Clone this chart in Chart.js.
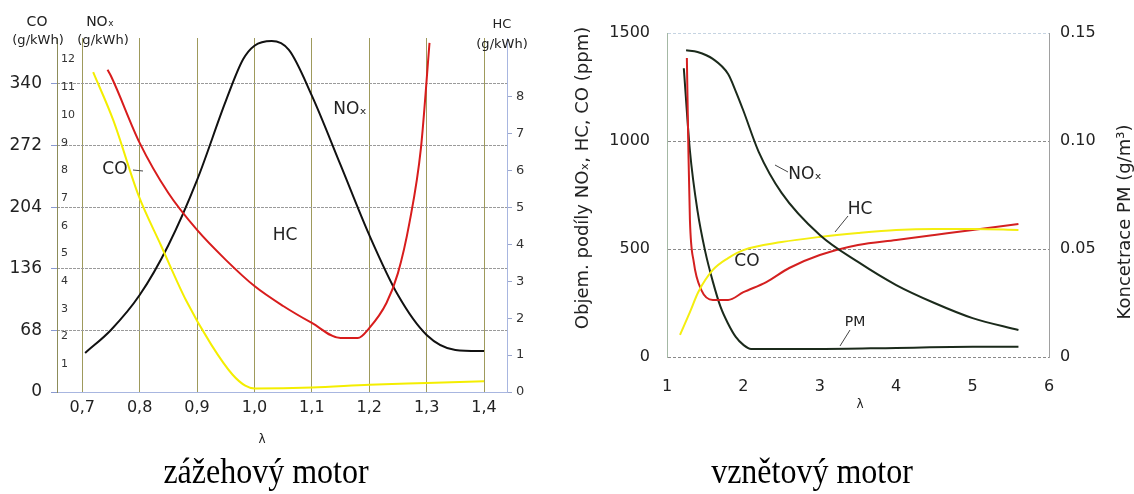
<!DOCTYPE html>
<html>
<head>
<meta charset="utf-8">
<script src="https://cdn.jsdelivr.net/npm/chart.js@4"></script>
<style>
html, body { margin: 0; padding: 0; background: #fff; }
#wrap { position: relative; width: 1134px; height: 494px; overflow: hidden; }
#leftBox { position: absolute; left: 0; top: 0; width: 560px; height: 494px; }
#rightBox { position: absolute; left: 560px; top: 0; width: 574px; height: 494px; }
</style>
</head>
<body>
<div id="wrap">
  <div id="leftBox"><canvas id="zazeh" width="560" height="494"></canvas></div>
  <div id="rightBox"><canvas id="vznet" width="574" height="494"></canvas></div>
</div>
<script>
// zážehový motor (spark ignition)
const siLambdaCO = [0.719, 0.754, 0.798, 0.837, 0.881, 0.925, 0.962, 0.984, 1.0, 1.1, 1.2, 1.3, 1.4];
const siCO = [353, 300, 217, 162, 101, 52, 19, 7, 4, 5, 8, 10, 12];
const siLambdaNOx = [0.705, 0.75, 0.8, 0.85, 0.9, 0.95, 0.98, 1.0, 1.03, 1.06, 1.1, 1.15, 1.2, 1.25, 1.3, 1.35, 1.4];
const siNOx = [1.41, 2.24, 3.5, 5.3, 7.65, 10.5, 12.0, 12.5, 12.67, 12.35, 10.7, 8.2, 5.67, 3.5, 2.06, 1.52, 1.48];
const siLambdaHC = [0.744, 0.75, 0.8, 0.85, 0.9, 0.95, 1.0, 1.05, 1.1, 1.15, 1.18, 1.2, 1.23, 1.25, 1.27, 1.29, 1.305];
const siHC = [8.73, 8.56, 6.75, 5.39, 4.39, 3.58, 2.87, 2.33, 1.87, 1.46, 1.46, 1.73, 2.41, 3.22, 4.58, 6.6, 9.46];
const siXTicks = [0.7, 0.8, 0.9, 1.0, 1.1, 1.2, 1.3, 1.4];
const siXTickLabels = ['0,7', '0,8', '0,9', '1,0', '1,1', '1,2', '1,3', '1,4'];
const siCOTicks = [0, 68, 136, 204, 272, 340];
const siNOxTicks = [1, 2, 3, 4, 5, 6, 7, 8, 9, 10, 11, 12];
const siHCTicks = [0, 1, 2, 3, 4, 5, 6, 7, 8];

// vznětový motor (compression ignition)
const ciLambdaNOx = [1.25, 1.4, 1.6, 1.8, 1.9, 2.0, 2.2, 2.5, 3.0, 3.5, 4.0, 4.5, 5.0, 5.6];
const ciNOx = [1420, 1412, 1380, 1310, 1230, 1140, 950, 760, 565, 440, 333, 250, 180, 125];
const ciLambdaHC = [1.17, 1.3, 1.41, 1.6, 1.8, 2.0, 2.5, 3.0, 3.5, 4.0, 4.5, 5.0, 5.6];
const ciHC = [102, 208, 301, 403, 458, 495, 532, 556, 574, 588, 593, 593, 588];
const ciLambdaCO = [1.26, 1.28, 1.3, 1.35, 1.45, 1.6, 1.8, 2.0, 2.3, 2.6, 3.0, 3.5, 4.0, 4.5, 5.0, 5.6];
const ciCO = [1384, 958, 634, 440, 310, 264, 264, 300, 347, 412, 472, 519, 542, 565, 588, 616];
const ciLambdaPM = [1.22, 1.3, 1.4, 1.5, 1.6, 1.7, 1.8, 1.9, 2.0, 2.1, 2.5, 3.0, 4.0, 5.0, 5.6];
const ciPM = [0.1337, 0.0955, 0.0675, 0.0489, 0.0349, 0.0233, 0.0154, 0.0093, 0.0056, 0.0037, 0.0037, 0.0037, 0.0042, 0.0047, 0.0047];
const ciXTicks = [1, 2, 3, 4, 5, 6];
const ciPpmTicks = [0, 500, 1000, 1500];
const ciPpmTickLabels = ['0', '500', '1000', '1500'];
const ciPMTicks = [0, 0.05, 0.10, 0.15];
const ciPMTickLabels = ['0', '0.05', '0.10', '0.15'];

const pts = (xs, ys) => xs.map((x, i) => ({ x: x, y: ys[i] }));
const setTicks = arr => scale => { scale.ticks = arr.map(v => ({ value: v })); };
const SANS = 'DejaVu Sans';

function noLegend() {
  return { legend: { display: false }, tooltip: { enabled: false } };
}

function text(ctx, str, x, y, size, align, color) {
  ctx.font = size + 'px "' + SANS + '"';
  ctx.textAlign = align || 'center';
  ctx.textBaseline = 'middle';
  ctx.fillStyle = color || '#222';
  ctx.fillText(str, x, y);
}

function caption(ctx, str, x, y) {
  ctx.save();
  ctx.translate(x, y);
  ctx.scale(1, 1.15);
  ctx.font = '32px "Liberation Serif"';
  ctx.textAlign = 'center';
  ctx.textBaseline = 'alphabetic';
  ctx.fillStyle = '#000';
  ctx.fillText(str, 0, 0);
  ctx.restore();
}

function leader(ctx, x1, y1, x2, y2) {
  ctx.save();
  ctx.strokeStyle = '#444';
  ctx.lineWidth = 1;
  ctx.beginPath();
  ctx.moveTo(x1, y1);
  ctx.lineTo(x2, y2);
  ctx.stroke();
  ctx.restore();
}

const leftText = {
  id: 'leftText',
  afterDraw(chart) {
    const ctx = chart.ctx;
    text(ctx, 'CO', 37, 22, 14);
    text(ctx, '(g/kWh)', 38, 41, 13);
    text(ctx, 'NOₓ', 100, 22, 14);
    text(ctx, '(g/kWh)', 103, 41, 13);
    text(ctx, 'HC', 502, 25, 13);
    text(ctx, '(g/kWh)', 502, 45, 13);
    text(ctx, 'NOₓ', 350, 110, 17);
    text(ctx, 'CO', 115, 170, 17);
    leader(ctx, 133, 170, 143, 171);
    text(ctx, 'HC', 285, 236, 17);
    text(ctx, 'λ', 262, 440, 12);
    caption(ctx, 'zážehový motor', 266, 483);
  }
};

const rightText = {
  id: 'rightText',
  afterDraw(chart) {
    const ctx = chart.ctx;
    ctx.save();
    ctx.translate(23, 178);
    ctx.rotate(-Math.PI / 2);
    text(ctx, 'Objem. podíly NOₓ, HC, CO (ppm)', 0, 0, 18);
    ctx.restore();
    ctx.save();
    ctx.translate(565, 222);
    ctx.rotate(-Math.PI / 2);
    text(ctx, 'Koncetrace PM (g/m³)', 0, 0, 18);
    ctx.restore();
    text(ctx, 'NOₓ', 245, 175, 17);
    leader(ctx, 215, 165, 228, 172);
    text(ctx, 'HC', 300, 210, 17);
    leader(ctx, 275, 232, 288, 216);
    text(ctx, 'CO', 187, 262, 17);
    text(ctx, 'PM', 295, 322, 14);
    leader(ctx, 280, 346, 290, 330);
    text(ctx, 'λ', 300, 405, 12);
    caption(ctx, 'vznětový motor', 252, 483);
  }
};

const lineEl = { point: { radius: 0 }, line: { borderWidth: 2, cubicInterpolationMode: 'monotone' } };

new Chart(document.getElementById('zazeh'), {
  type: 'line',
  data: {
    datasets: [
      { label: 'CO', data: pts(siLambdaCO, siCO), yAxisID: 'yCO', borderColor: '#f4ee00' },
      { label: 'HC', data: pts(siLambdaHC, siHC), yAxisID: 'yHC', borderColor: '#d81c1c' },
      { label: 'NOx', data: pts(siLambdaNOx, siNOx), yAxisID: 'yNOx', borderColor: '#111' }
    ]
  },
  options: {
    responsive: false,
    animation: false,
    layout: { padding: { top: 38, left: 0, right: 0, bottom: 0 } },
    plugins: noLegend(),
    elements: lineEl,
    scales: {
      x: {
        type: 'linear', min: 0.656, max: 1.44,
        afterBuildTicks: setTicks(siXTicks),
        afterFit: s => { s.height = 102; },
        grid: { color: '#9e9a5c', drawTicks: false },
        border: { color: '#a8b6e0' },
        ticks: { padding: 6, color: '#222', font: { family: SANS, size: 16 }, callback: (v, i) => siXTickLabels[i] }
      },
      yCO: {
        position: 'left', weight: 1, min: 0, max: 390.7,
        afterBuildTicks: setTicks(siCOTicks),
        afterFit: s => { s.width = 57; },
        grid: { color: '#9a9a9a', tickColor: '#8a9ad0', tickLength: 6 },
        border: { display: false, dash: [3, 1] },
        ticks: { padding: 9, color: '#222', font: { family: SANS, size: 17 } }
      },
      yNOx: {
        position: 'left', weight: 0, min: 0, max: 12.78,
        afterBuildTicks: setTicks(siNOxTicks),
        afterFit: s => { s.width = 0; },
        grid: { drawOnChartArea: false, drawTicks: false },
        border: { color: '#8c8c5a' },
        ticks: { mirror: true, padding: 4, color: '#333', font: { family: SANS, size: 11 } }
      },
      yHC: {
        position: 'right', min: 0, max: 9.59,
        afterBuildTicks: setTicks(siHCTicks),
        afterFit: s => { s.width = 53; },
        grid: { drawOnChartArea: false, tickLength: 5, tickColor: '#9aa6cc' },
        border: { color: '#a8b6e0' },
        ticks: { padding: 4, color: '#333', font: { family: SANS, size: 13 } }
      }
    }
  },
  plugins: [leftText]
});

new Chart(document.getElementById('vznet'), {
  type: 'line',
  data: {
    datasets: [
      { label: 'NOx', data: pts(ciLambdaNOx, ciNOx), yAxisID: 'yPpm', borderColor: '#1b2a1b' },
      { label: 'HC', data: pts(ciLambdaHC, ciHC), yAxisID: 'yPpm', borderColor: '#f4ee10' },
      { label: 'CO', data: pts(ciLambdaCO, ciCO), yAxisID: 'yPpm', borderColor: '#d42020' },
      { label: 'PM', data: pts(ciLambdaPM, ciPM), yAxisID: 'yPM', borderColor: '#1b2a1b' }
    ]
  },
  options: {
    responsive: false,
    animation: false,
    layout: { padding: { top: 33, left: 0, right: 0, bottom: 0 } },
    plugins: noLegend(),
    elements: lineEl,
    scales: {
      x: {
        type: 'linear', min: 1, max: 6,
        afterBuildTicks: setTicks(ciXTicks),
        afterFit: s => { s.height = 137; },
        grid: { display: false, drawTicks: false },
        border: { display: false },
        ticks: { padding: 20, color: '#222', font: { family: SANS, size: 16 } }
      },
      yPpm: {
        position: 'left', min: 0, max: 1500,
        afterBuildTicks: setTicks(ciPpmTicks),
        afterFit: s => { s.width = 107; },
        grid: { drawTicks: false, color: c => (c.tick && c.tick.value === 1500) ? '#c6d4e2' : '#8a8a8a' },
        border: { color: '#a4b8a4', dash: [3, 2] },
        ticks: { padding: 17, color: '#222', font: { family: SANS, size: 16 }, callback: (v, i) => ciPpmTickLabels[i] }
      },
      yPM: {
        position: 'right', min: 0, max: 0.15,
        afterBuildTicks: setTicks(ciPMTicks),
        afterFit: s => { s.width = 85; },
        grid: { drawOnChartArea: false, drawTicks: false },
        border: { color: '#a0a0a0' },
        ticks: { padding: 11, color: '#222', font: { family: SANS, size: 16 }, callback: (v, i) => ciPMTickLabels[i] }
      }
    }
  },
  plugins: [rightText]
});
</script>
</body>
</html>
